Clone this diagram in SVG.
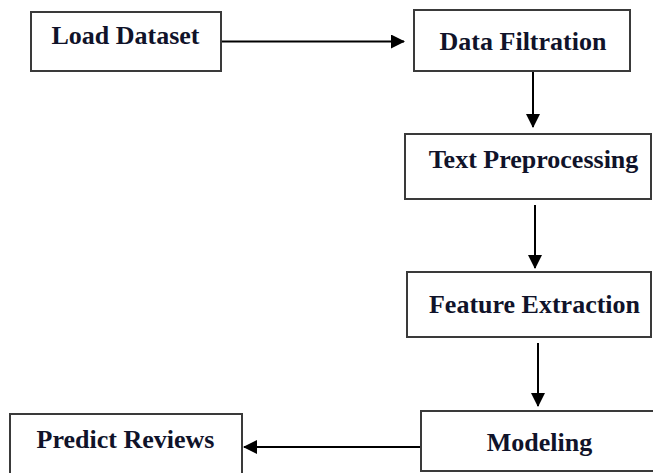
<svg xmlns="http://www.w3.org/2000/svg" width="653" height="473" viewBox="0 0 653 473">
  <defs>
    <marker id="arrow" viewBox="0 0 14 14" refX="13" refY="7" markerWidth="14" markerHeight="14" markerUnits="userSpaceOnUse" orient="auto">
      <path d="M0,0 L14,7 L0,14 Z" fill="#000"/>
    </marker>
    <style>
      .box { fill: #fff; stroke: #3a3a3a; stroke-width: 2; }
      .label { font-family: "Liberation Serif", "Times New Roman", serif; font-weight: bold; font-size: 26px; fill: #10132a; text-anchor: middle; }
      .edge { stroke: #000; stroke-width: 2; fill: none; marker-end: url(#arrow); }
    </style>
  </defs>
  <rect width="653" height="473" fill="#fff"/>

  <g id="connectors">
    <line class="edge" x1="221" y1="41.5" x2="404" y2="41.5"/>
    <line class="edge" x1="533" y1="71" x2="533" y2="127"/>
    <line class="edge" x1="535" y1="205" x2="535" y2="268"/>
    <line class="edge" x1="538" y1="343" x2="538" y2="406"/>
    <line class="edge" x1="421" y1="447" x2="244" y2="447"/>
  </g>

  <g id="load-dataset">
    <rect class="box" x="31" y="12" width="190" height="59"/>
    <text class="label" x="125.5" y="44">Load Dataset</text>
  </g>

  <g id="data-filtration">
    <rect class="box" x="414" y="10" width="216" height="61"/>
    <text class="label" x="523" y="50">Data Filtration</text>
  </g>

  <g id="text-preprocessing">
    <rect class="box" x="405" y="134" width="246" height="65"/>
    <text class="label" x="533.5" y="168">Text Preprocessing</text>
  </g>

  <g id="feature-extraction">
    <rect class="box" x="407" y="272" width="244" height="65"/>
    <text class="label" x="534.5" y="313">Feature Extraction</text>
  </g>

  <g id="modeling">
    <rect class="box" x="421" y="411" width="240" height="60"/>
    <text class="label" x="539.5" y="451">Modeling</text>
  </g>

  <g id="predict-reviews">
    <rect class="box" x="10" y="414" width="232" height="70"/>
    <text class="label" x="125.5" y="448">Predict Reviews</text>
  </g>
</svg>
